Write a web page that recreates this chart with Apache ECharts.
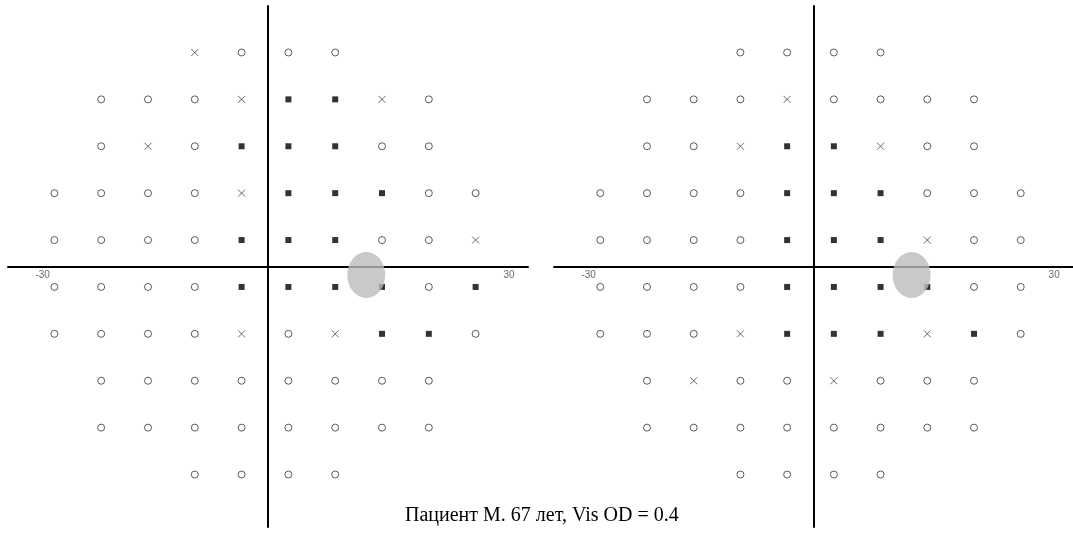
<!DOCTYPE html>
<html>
<head>
<meta charset="utf-8">
<style>
  html, body { margin: 0; padding: 0; background: #fff; }
  #chart { width: 1073px; height: 538px; }
</style>
<script src="https://cdn.jsdelivr.net/npm/echarts@6/dist/echarts.min.js"></script>
</head>
<body>
<div id="chart"></div>
<script>
// Test grid of the 30-degree field (degrees from fixation)
const cols = [-27, -21, -15, -9, -3, 3, 9, 15, 21, 27];
const rows = [27, 21, 15, 9, 3, -3, -9, -15, -21, -27];

// One string per row, one character per column:
// o = seen, x = relative defect, # = absolute defect, . = not tested
const fieldLeft = [
  '...xooo...',
  '.ooox##xo.',
  '.oxo###oo.',
  'oooox###oo',
  'oooo###oox',
  'oooo####o#',
  'ooooxox##o',
  '.oooooooo.',
  '.oooooooo.',
  '...oooo...'
];
const fieldRight = [
  '...oooo...',
  '.oooxoooo.',
  '.oox##xoo.',
  'oooo###ooo',
  'oooo###xoo',
  'oooo####oo',
  'ooox###x#o',
  '.oxooxooo.',
  '.oooooooo.',
  '...oooo...'
];

// Blind spot centre, degrees
const blindSpot = [12.6, -1.1];

// Scale marks written on the horizontal meridian
const axisTicks = [-30, 30];
const titleText = 'Пациент М. 67 лет, Vis OD = 0.4';

const RANGE = 33.33;

function pointsOf(field, code) {
  const out = [];
  field.forEach((row, r) => {
    for (let c = 0; c < row.length; c++) {
      if (row[c] === code) out.push([cols[c], rows[r]]);
    }
  });
  return out;
}

const grids = [
  { left: 8, top: 6, width: 520, height: 521 },
  { left: 554, top: 6, width: 520, height: 521 }
];

function axisFor(i) {
  return {
    gridIndex: i, type: 'value', min: -RANGE, max: RANGE,
    axisLine: { show: true, onZero: true, lineStyle: { color: '#000', width: 2 } },
    axisTick: { show: false },
    splitLine: { show: false },
    axisLabel: { show: false }
  };
}

const markOffset = [-3, -3];
const crossPath = 'path://M0,0L10,10M10,0L0,10';

function seriesFor(field, i) {
  return [
    {
      type: 'scatter', xAxisIndex: i, yAxisIndex: i, silent: true,
      data: pointsOf(field, 'o'),
      symbol: 'circle', symbolSize: 7, symbolOffset: markOffset,
      itemStyle: { color: '#fff', borderColor: '#333', borderWidth: 1 }, z: 3
    },
    {
      type: 'scatter', xAxisIndex: i, yAxisIndex: i, silent: true,
      data: pointsOf(field, 'x'),
      symbol: crossPath, symbolSize: 7, symbolOffset: markOffset,
      itemStyle: { color: 'none', borderColor: '#444', borderWidth: 1 }, z: 3
    },
    {
      type: 'scatter', xAxisIndex: i, yAxisIndex: i, silent: true,
      data: pointsOf(field, '#'),
      symbol: 'rect', symbolSize: 6, symbolOffset: markOffset,
      itemStyle: { color: '#000' }, z: 3
    },
    {
      type: 'scatter', xAxisIndex: i, yAxisIndex: i, silent: true,
      data: [blindSpot],
      symbol: 'circle', symbolSize: [38, 46],
      itemStyle: { color: '#bbbbbb' }, z: 5
    },
    {
      // -30 / 30 scale labels sitting just under the horizontal meridian
      type: 'scatter', xAxisIndex: i, yAxisIndex: i, silent: true,
      data: axisTicks.map(v => [v, 0]),
      symbol: 'rect', symbolSize: 1,
      itemStyle: { color: 'rgba(0,0,0,0)' },
      label: {
        show: true, position: [2, 4], align: 'left', verticalAlign: 'top',
        formatter: p => String(p.value[0]),
        fontSize: 10, color: '#444',
        fontFamily: '"Liberation Sans Narrow", "Arial Narrow", "Liberation Sans", sans-serif'
      },
      z: 4
    }
  ];
}

const chart = echarts.init(document.getElementById('chart'), null, { renderer: 'canvas' });
chart.setOption({
  backgroundColor: '#fff',
  animation: false,
  grid: grids,
  xAxis: [axisFor(0), axisFor(1)],
  yAxis: [axisFor(0), axisFor(1)],
  title: {
    text: titleText, left: 400, top: 501,
    textStyle: {
      fontFamily: '"Liberation Serif", "Times New Roman", serif',
      fontSize: 20, fontWeight: 'normal', color: '#000'
    }
  },
  series: [].concat(seriesFor(fieldLeft, 0), seriesFor(fieldRight, 1))
});
</script>
</body>
</html>
